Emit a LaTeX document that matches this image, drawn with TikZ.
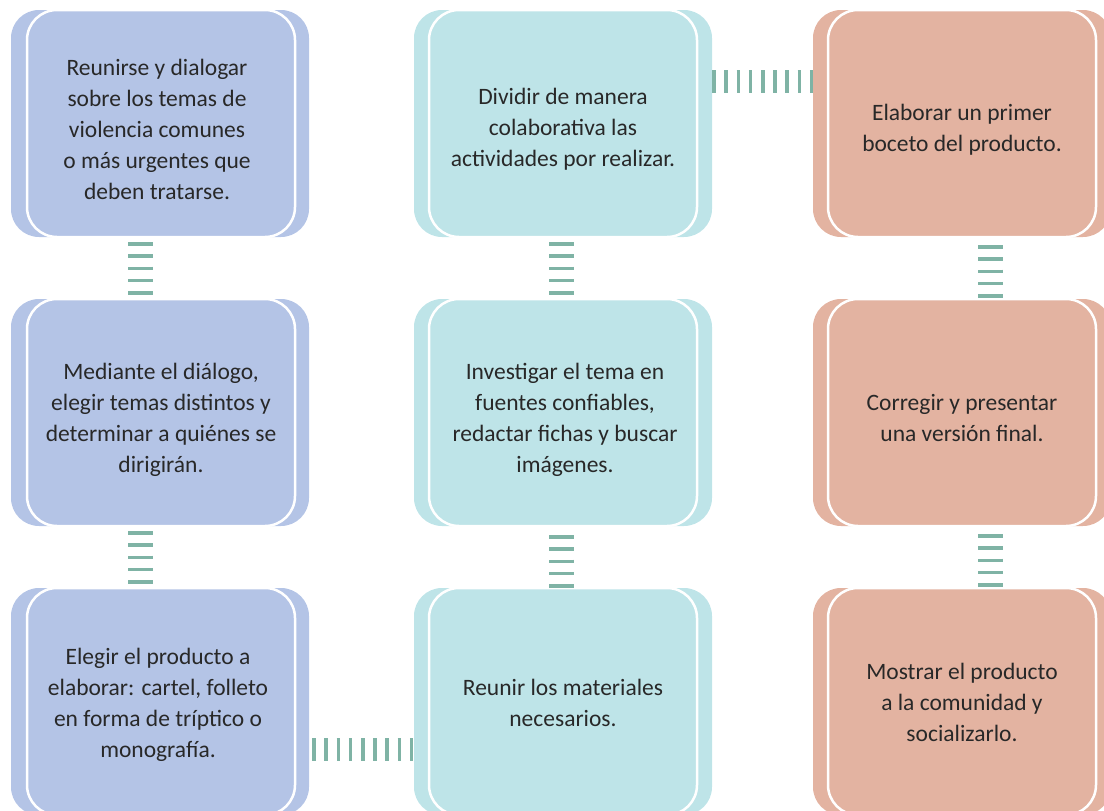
\documentclass[tikz,border=0pt]{standalone}
\usepackage{fontspec}
\setmainfont{Carlito}
\definecolor{bluebox}{RGB}{180,196,230}
\definecolor{tealbox}{RGB}{190,228,232}
\definecolor{salmonbox}{RGB}{227,179,161}
\definecolor{ladder}{RGB}{127,179,165}
\definecolor{textgray}{RGB}{40,40,40}
\begin{document}
\begin{tikzpicture}[x=1pt,y=-1pt,
  backbox/.style={rectangle, draw=none, rounded corners=28pt, minimum width=298pt, minimum height=227pt, inner sep=0pt},
  frontbox/.style={rectangle, draw=white, line width=2.5pt, rounded corners=30pt, minimum width=268pt, minimum height=227pt, inner sep=0pt},
  boxtext/.style={align=center, text=textgray, inner sep=0pt, font=\fontsize{23.5}{31}\selectfont},
  vlad/.style={draw=ladder, line width=25pt, dash pattern=on 3.5pt off 8.7pt},
  hlad/.style={draw=ladder, line width=23pt, dash pattern=on 3.5pt off 8.7pt}]
\useasboundingbox (0,0) rectangle (1104,811);
\clip (0,0) rectangle (1104,811);
% column 1
\node[backbox, fill=bluebox] (b11) at (160,123.5) {};
\node[frontbox, fill=bluebox] (a11) at (161,123.5) {};
\node[boxtext] (t11) at ([xshift=-4pt,yshift=-6pt]a11.center) {Reunirse y dialogar\\sobre los temas de\\violencia comunes\\o más urgentes que\\deben tratarse.};
\node[backbox, fill=bluebox] (b12) at (160,412.5) {};
\node[frontbox, fill=bluebox] (a12) at (161,412.5) {};
\node[boxtext] (t12) at ([yshift=-7pt]a12.center) {Mediante el diálogo,\\elegir temas distintos y\\determinar a quiénes se\\dirigirán.};
\node[backbox, fill=bluebox] (b13) at (160,701.5) {};
\node[frontbox, fill=bluebox] (a13) at (161,701.5) {};
\node[boxtext] (t13) at ([xshift=-3pt,yshift=-3pt]a13.center) {Elegir el producto a\\elaborar: cartel, folleto\\en forma de tríptico o\\monografía.};
% column 2
\node[backbox, fill=tealbox] (b21) at (563,123.5) {};
\node[frontbox, fill=tealbox] (a21) at (563,123.5) {};
\node[boxtext] (t21) at ([yshift=-6pt]a21.center) {Dividir de manera\\colaborativa las\\actividades por realizar.};
\node[backbox, fill=tealbox] (b22) at (563,412.5) {};
\node[frontbox, fill=tealbox] (a22) at (563,412.5) {};
\node[boxtext] (t22) at ([xshift=2pt,yshift=-7pt]a22.center) {Investigar el tema en\\fuentes confiables,\\redactar fichas y buscar\\imágenes.};
\node[backbox, fill=tealbox] (b23) at (563,701.5) {};
\node[frontbox, fill=tealbox] (a23) at (563,701.5) {};
\node[boxtext] (t23) at ([yshift=-1pt]a23.center) {Reunir los materiales\\necesarios.};
% column 3
\node[backbox, fill=salmonbox] (b31) at (962,123.5) {};
\node[frontbox, fill=salmonbox] (a31) at (962,123.5) {};
\node[boxtext] (t31) at ([yshift=-6pt]a31.center) {Elaborar un primer\\boceto del producto.};
\node[backbox, fill=salmonbox] (b32) at (962,412.5) {};
\node[frontbox, fill=salmonbox] (a32) at (962,412.5) {};
\node[boxtext] (t32) at ([yshift=-6pt]a32.center) {Corregir y presentar\\una versión final.};
\node[backbox, fill=salmonbox] (b33) at (962,701.5) {};
\node[frontbox, fill=salmonbox] (a33) at (962,701.5) {};
\node[boxtext] (t33) at ([yshift=-1pt]a33.center) {Mostrar el producto\\a la comunidad y\\socializarlo.};
% vertical ladders
\draw[vlad] ([xshift=-19.5pt,yshift=-5pt]b11.south) -- ([xshift=-19.5pt]b12.north);
\draw[vlad] ([xshift=-19.5pt,yshift=-5pt]b12.south) -- ([xshift=-19.5pt]b13.north);
\draw[vlad] ([xshift=-1.5pt,yshift=-5pt]b21.south) -- ([xshift=-1.5pt]b22.north);
\draw[vlad] ([xshift=-1.5pt,yshift=-9pt]b22.south) -- ([xshift=-1.5pt]b23.north);
\draw[vlad] ([xshift=28.5pt,yshift=-8pt]b31.south) -- ([xshift=28.5pt]b32.north);
\draw[vlad] ([xshift=28.5pt,yshift=-8pt]b32.south) -- ([xshift=28.5pt]b33.north);
% horizontal ladders
\draw[hlad] ([yshift=42pt]b21.east) -- ([yshift=42pt]b31.west);
\draw[hlad] ([xshift=3pt,yshift=-47.5pt]b13.east) -- ([yshift=-47.5pt]b23.west);
\end{tikzpicture}
\end{document}
